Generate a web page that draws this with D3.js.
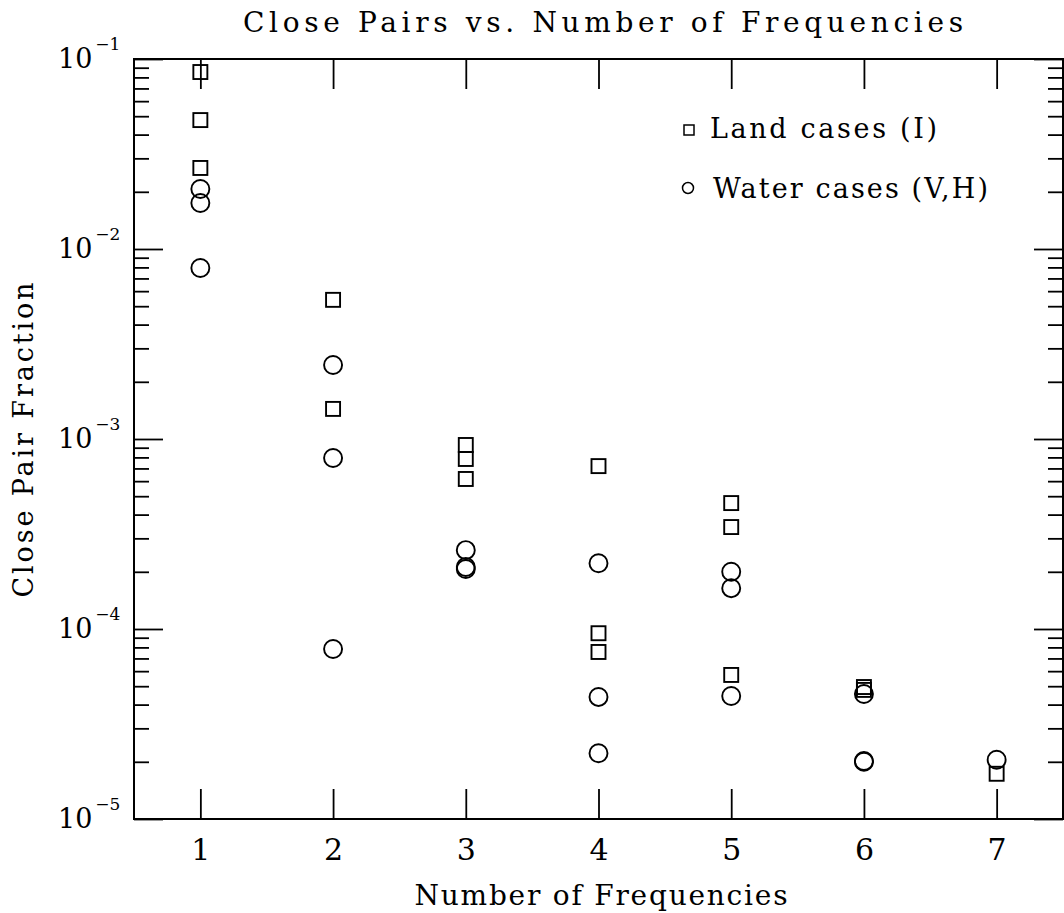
<!DOCTYPE html>
<html>
<head>
<meta charset="utf-8">
<script src="https://cdn.jsdelivr.net/npm/d3@7"></script>
<style>
    body { margin: 0; background: #fff; }
    text { font-family: "DejaVu Serif", serif; fill: #000; }
</style>
</head>
<body>
<div id="chart"></div>
<script>
// number of frequencies on the x axis
var frequencies = [1, 2, 3, 4, 5, 6, 7];

// land cases (I), squares: [frequencies, close pair fraction]
var landCases = [
    [1, 0.0854], [1, 0.0477], [1, 0.0267],
    [2, 0.0054], [2, 0.00144],
    [3, 9.3e-4], [3, 7.85e-4], [3, 6.16e-4],
    [4, 7.2e-4], [4, 9.5e-5], [4, 7.57e-5],
    [5, 4.6e-4], [5, 3.44e-4], [5, 5.73e-5],
    [6, 4.95e-5], [6, 4.78e-5],
    [7, 1.73e-5]
];

// water cases (V,H), circles
var waterCases = [
    [1, 0.0207], [1, 0.01746], [1, 0.00794],
    [2, 0.00245], [2, 7.94e-4], [2, 7.85e-5],
    [3, 2.6e-4], [3, 2.12e-4], [3, 2.07e-4],
    [4, 2.22e-4], [4, 4.39e-5], [4, 2.22e-5],
    [5, 2.0e-4], [5, 1.64e-4], [5, 4.44e-5],
    [6, 4.55e-5], [6, 2.0e-5], [6, 2.02e-5],
    [7, 2.05e-5]
];

// y axis decades and their exponent labels
var decades = [1e-5, 1e-4, 1e-3, 1e-2, 1e-1];
var exponents = ["\u22125", "\u22124", "\u22123", "\u22122", "\u22121"];

var legendLabels = ["Land cases (I)", "Water cases (V,H)"];

var width = 1064,
    height = 913,
    margin = {
        top: 59,
        left: 134,
        bottom: 94,
        right: 1
    },
    w = width - margin.left - margin.right,
    h = height - margin.top - margin.bottom;

var svg = d3.select("#chart")
    .append("svg")
    .attr("width", width)
    .attr("height", height);

var g = svg.append("g")
    .attr("transform", "translate(" + margin.left + "," + margin.top + ")");

var xScale = d3.scaleLinear()
    .domain([0.5, 7.5])
    .range([0, w]);

var yScale = d3.scaleLog()
    .domain([1e-5, 1e-1])
    .range([h, 0]);

// minor ticks = 2..9 inside each decade
var minorTicks = yScale.ticks().filter(function (d) {
    return decades.indexOf(d) < 0;
});

function styleAxis(sel) {
    sel.select(".domain").remove();
    sel.selectAll(".tick line")
        .attr("stroke", "#000")
        .attr("stroke-width", 1.8);
}

// bottom axis with labels
g.append("g")
    .attr("transform", "translate(0," + h + ")")
    .call(d3.axisBottom(xScale)
        .tickValues(frequencies)
        .tickSize(-30)
        .tickSizeOuter(0)
        .tickPadding(20)
        .tickFormat(d3.format("d")))
    .call(styleAxis)
    .selectAll("text")
    .style("font-family", "DejaVu Serif")
    .style("font-size", "30px");

// top axis, ticks only
g.append("g")
    .call(d3.axisTop(xScale)
        .tickValues(frequencies)
        .tickSize(-30)
        .tickSizeOuter(0)
        .tickFormat(""))
    .call(styleAxis);

// left and right, major + minor
[[d3.axisLeft, 0], [d3.axisRight, w]].forEach(function (a) {
    g.append("g")
        .attr("transform", "translate(" + a[1] + ",0)")
        .call(a[0](yScale).tickValues(decades).tickSize(-29).tickSizeOuter(0).tickFormat(""))
        .call(styleAxis);
    g.append("g")
        .attr("transform", "translate(" + a[1] + ",0)")
        .call(a[0](yScale).tickValues(minorTicks).tickSize(-15).tickSizeOuter(0).tickFormat(""))
        .call(styleAxis);
});

// frame
g.append("rect")
    .attr("x", 0)
    .attr("y", 0)
    .attr("width", w)
    .attr("height", h)
    .attr("fill", "none")
    .attr("stroke", "#000")
    .attr("stroke-width", 2);

// y tick labels 10^n
var yLabels = g.selectAll(".ylab")
    .data(decades)
    .enter()
    .append("text")
    .attr("class", "ylab")
    .attr("x", -76)
    .attr("y", function (d) {
        return yScale(d) + 9;
    });
yLabels.append("tspan")
    .style("font-size", "27px")
    .text("10");
yLabels.append("tspan")
    .attr("dx", 3)
    .attr("dy", -18)
    .style("font-size", "17px")
    .text(function (d, i) {
        return exponents[i];
    });

// land squares
g.selectAll(".land")
    .data(landCases)
    .enter()
    .append("rect")
    .attr("class", "land")
    .attr("x", function (d) {
        return xScale(d[0]) - 7;
    })
    .attr("y", function (d) {
        return yScale(d[1]) - 7;
    })
    .attr("width", 14)
    .attr("height", 14)
    .attr("fill", "none")
    .attr("stroke", "#000")
    .attr("stroke-width", 1.9);

// water circles
g.selectAll(".water")
    .data(waterCases)
    .enter()
    .append("circle")
    .attr("class", "water")
    .attr("cx", function (d) {
        return xScale(d[0]);
    })
    .attr("cy", function (d) {
        return yScale(d[1]);
    })
    .attr("r", 9)
    .attr("fill", "none")
    .attr("stroke", "#000")
    .attr("stroke-width", 1.9);

// title and axis labels
svg.append("text")
    .attr("x", 603)
    .attr("y", 32)
    .attr("text-anchor", "middle")
    .attr("textLength", 720)
    .attr("lengthAdjust", "spacing")
    .style("font-size", "28px")
    .text("Close Pairs vs. Number of Frequencies");

svg.append("text")
    .attr("x", 601)
    .attr("y", 905)
    .attr("text-anchor", "middle")
    .attr("textLength", 373)
    .attr("lengthAdjust", "spacing")
    .style("font-size", "28px")
    .text("Number of Frequencies");

svg.append("text")
    .attr("transform", "translate(33,440) rotate(-90)")
    .attr("text-anchor", "middle")
    .attr("textLength", 315)
    .attr("lengthAdjust", "spacing")
    .style("font-size", "27px")
    .text("Close Pair Fraction");

// legend
var legend = svg.append("g");
legend.append("rect")
    .attr("x", 684)
    .attr("y", 125)
    .attr("width", 10)
    .attr("height", 10)
    .attr("fill", "none")
    .attr("stroke", "#000")
    .attr("stroke-width", 1.5);
legend.append("circle")
    .attr("cx", 688)
    .attr("cy", 188)
    .attr("r", 5.5)
    .attr("fill", "none")
    .attr("stroke", "#000")
    .attr("stroke-width", 1.5);
legend.selectAll(".legtext")
    .data(legendLabels)
    .enter()
    .append("text")
    .attr("class", "legtext")
    .attr("x", function (d, i) {
        return i == 0 ? 710 : 713;
    })
    .attr("y", function (d, i) {
        return i == 0 ? 138 : 198;
    })
    .attr("textLength", function (d, i) {
        return i == 0 ? 227 : 275;
    })
    .attr("lengthAdjust", "spacing")
    .style("font-size", "27px")
    .text(function (d) {
        return d;
    });
</script>
</body>
</html>
